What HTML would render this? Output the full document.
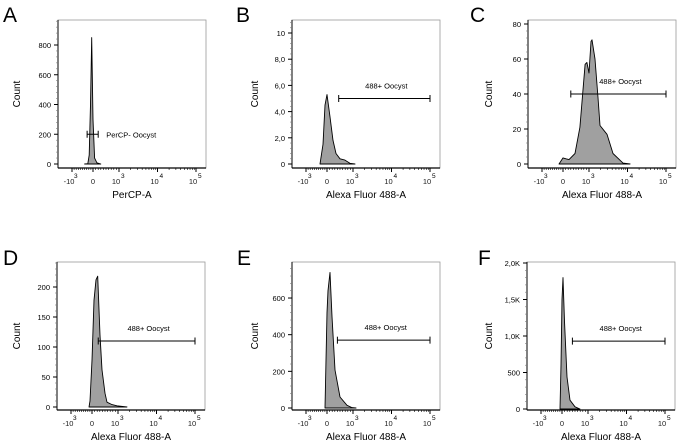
<!DOCTYPE html>
<html><head><meta charset="utf-8"><style>
html,body{margin:0;padding:0;background:#fff;}
svg{display:block;font-family:"Liberation Sans",sans-serif;}
</style></head><body>
<svg id="fig" width="677" height="443" viewBox="0 0 677 443" xmlns="http://www.w3.org/2000/svg"></svg>
<script>
// ---- data (x = fluorescence value, counts = events) ----
const aX = [-400,-250,-180,-120,-60,0,60,150,300];
const aCounts = [0,2,60,400,850,300,40,8,0];
const bX = [-333,-190,-95,0,115,230,346,500,690,880,1130];
const bCounts = [0,1.5,4.5,5.3,3.6,1.8,0.8,0.4,0.3,0.05,0];
const cX = [-190,0,115,230,460,650,850,920,1000,1127,1196,1432,1713,1931,2935,4204,7625,11660];
const cCounts = [0,3.5,3,2.5,6,21,57,58,52,70,71,60,38,22,17,6,0.5,0];
const dX = [-143,-95,0,77,154,220,308,385,500,577,770,960,1713];
const dCounts = [0,10,78,178,212,218,120,62,23,8,4,2,0];
const eX = [-95,0,38,115,192,308,500,770,960,1200];
const eCounts = [0,520,640,740,500,208,60,15,2,0];
const fX = [-95,-48,0,38,96,192,308,500,690];
const fCounts = [0,600,1500,1800,1200,440,120,30,0];
const aYTicks = [0,200,400,600,800];
const aYLabels = ["0","200","400","600","800"];
const bYTicks = [0,2,4,6,8,10];
const bYLabels = ["0","2,0","4,0","6,0","8,0","10"];
const cYTicks = [0,20,40,60,80];
const cYLabels = ["0","20","40","60","80"];
const dYTicks = [0,50,100,150,200];
const dYLabels = ["0","50","100","150","200"];
const eYTicks = [0,200,400,600];
const eYLabels = ["0","200","400","600"];
const fYTicks = [0,500,1000,1500,2000];
const fYLabels = ["0","500","1,0K","1,5K","2,0K"];
const gateLevels = [200,5.0,40,110,370,930];
const gateStarts = [-280,450,300,240,400,400];
const gateEnds = [200,100000,100000,100000,100000,100000];
const xTickValues = [-1000,0,1000,10000,100000];
const xTickBase = ["-10","0","10","10","10"];
const xTickExp = ["3","","3","4","5"];

const NS="http://www.w3.org/2000/svg";
const svg=document.getElementById('fig');
function mk(tag,attrs,parent){const e=document.createElementNS(NS,tag);for(const k in attrs)e.setAttribute(k,attrs[k]);(parent||svg).appendChild(e);return e;}

function xRel(v){
  if(v<0) return 35+v*0.021;
  if(v<=1000) return 35+v*0.026;
  return 61+Math.log10(v/1000)*38.5;
}

const panels=[
 {id:'a',letter:'A',L:58,T:20,B:168,y0:164,k:0.14875,xs:aX,ys:aCounts,yt:aYTicks,yl:aYLabels,title:'PerCP-A',gate:'PerCP- Oocyst',lx:3,ly:22,cx:20},
 {id:'b',letter:'B',L:292,T:20,B:168,y0:164,k:13.1,xs:bX,ys:bCounts,yt:bYTicks,yl:bYLabels,title:'Alexa Fluor 488-A',gate:'488+ Oocyst',lx:236,ly:22,cx:258},
 {id:'c',letter:'C',L:528,T:20,B:168,y0:164,k:1.75,xs:cX,ys:cCounts,yt:cYTicks,yl:cYLabels,title:'Alexa Fluor 488-A',gate:'488+ Oocyst',lx:470,ly:22,cx:492},
 {id:'d',letter:'D',L:57,T:262,B:410,y0:407,k:0.6,xs:dX,ys:dCounts,yt:dYTicks,yl:dYLabels,title:'Alexa Fluor 488-A',gate:'488+ Oocyst',lx:3,ly:265,cx:20},
 {id:'e',letter:'E',L:292,T:262,B:410,y0:408,k:0.1833,xs:eX,ys:eCounts,yt:eYTicks,yl:eYLabels,title:'Alexa Fluor 488-A',gate:'488+ Oocyst',lx:237,ly:265,cx:258},
 {id:'f',letter:'F',L:527,T:262,B:410,y0:409,k:0.073,xs:fX,ys:fCounts,yt:fYTicks,yl:fYLabels,title:'Alexa Fluor 488-A',gate:'488+ Oocyst',lx:478,ly:265,cx:492}
];
const W=148;

panels.forEach((p,i)=>{
  const g=mk('g',{});
  
  
  const X=v=>p.L+xRel(v);
  const Y=c=>p.y0-c*p.k;
  const lt=mk('text',{x:p.lx,y:p.ly,'font-size':21,fill:'#000'},g);lt.textContent=p.letter;
  
  
  const box=mk('rect',{x:p.L,y:p.T,width:W,height:p.B-p.T,fill:'none',stroke:'#999','stroke-width':0.8},g);
  
  
  let d='M'+X(p.xs[0])+','+Y(0);
  p.xs.forEach((v,j)=>{d+=' L'+X(v).toFixed(1)+','+Y(p.ys[j]).toFixed(1);});
  d+=' L'+X(p.xs[p.xs.length-1])+','+Y(0)+' Z';
  const h=mk('path',{d:d,fill:'#a0a0a0',stroke:'#000','stroke-width':0.9,'stroke-linejoin':'round'},g);
  
  
  mk('line',{x1:p.L,y1:p.T,x2:p.L,y2:p.B,stroke:'#000','stroke-width':1},g);
  const xa=mk('line',{x1:p.L,y1:p.B,x2:p.L+W,y2:p.B,stroke:'#000','stroke-width':1.2},g);
  
  
  const step=p.yt[1]-p.yt[0];
  for(let v=0;Y(v)>=p.T;v+=step/5){
    const major=Math.abs(v/step-Math.round(v/step))<1e-6;
    mk('line',{x1:p.L-(major?4:2),y1:Y(v),x2:p.L,y2:Y(v),stroke:major?'#000':'#777','stroke-width':major?1:0.6},g);
  }
  p.yt.forEach((v,j)=>{
    const t=mk('text',{x:p.L-7,y:Y(v)+3,'font-size':7.5,'text-anchor':'end',fill:'#000'},g);t.textContent=p.yl[j];
    
    
  });
  const minors=[];
  for(let m=-900;m<=-100;m+=100)minors.push(m);
  for(let m=100;m<1000;m+=100)minors.push(m);
  [1000,10000].forEach(dd=>{for(let m=2;m<=9;m++)minors.push(m*dd);});
  minors.forEach(v=>mk('line',{x1:X(v),y1:p.B,x2:X(v),y2:p.B+2,stroke:'#000','stroke-width':0.6},g));
  xTickValues.forEach(v=>mk('line',{x1:X(v),y1:p.B,x2:X(v),y2:p.B+4,stroke:'#000','stroke-width':1},g));
  xTickValues.forEach((v,j)=>{
    const hasExp=xTickExp[j]!=='';
    const cx=X(v);
    const bx=hasExp?(j===0?cx-3:cx-3):cx;
    const t=mk('text',{x:bx.toFixed(1),y:p.B+16,'font-size':7.5,'text-anchor':'middle',fill:'#222'},g);
    t.textContent=xTickBase[j];
    
    
    if(hasExp){
      const s=mk('text',{x:(cx+2).toFixed(1),y:p.B+10,'font-size':6.5,fill:'#000'},g);
      s.textContent=xTickExp[j];
      
      
    }
  });
  const xt=mk('text',{x:p.L+W/2,y:p.B+30,'font-size':10,'text-anchor':'middle',fill:'#000'},g);xt.textContent=p.title;
  
  
  const yy=(p.T+p.B)/2;
  const yt=mk('text',{x:p.cx,y:yy,'font-size':10,'text-anchor':'middle',fill:'#000',transform:'rotate(-90 '+p.cx+' '+yy+')'},g);yt.textContent='Count';
  
  
  const gy=Y(gateLevels[i]);
  const gx1=X(gateStarts[i]);
  const gx2=Math.min(X(gateEnds[i]),p.L+W);
  const gg=mk('g',{},g);
  
  
  mk('line',{x1:gx1,y1:gy,x2:gx2,y2:gy,stroke:'#000','stroke-width':1},gg);
  mk('line',{x1:gx1,y1:gy-3.5,x2:gx1,y2:gy+3.5,stroke:'#000','stroke-width':1},gg);
  mk('line',{x1:gx2,y1:gy-3.5,x2:gx2,y2:gy+3.5,stroke:'#000','stroke-width':1},gg);
  const gt=i==0?mk('text',{x:gx2+8,y:gy+3,'font-size':7.5,fill:'#000'},gg):mk('text',{x:(gx1+gx2)/2+2,y:gy-10,'font-size':7.5,'text-anchor':'middle',fill:'#000'},gg);
  gt.textContent=p.gate;
  
  
});
</script>
</body></html>
